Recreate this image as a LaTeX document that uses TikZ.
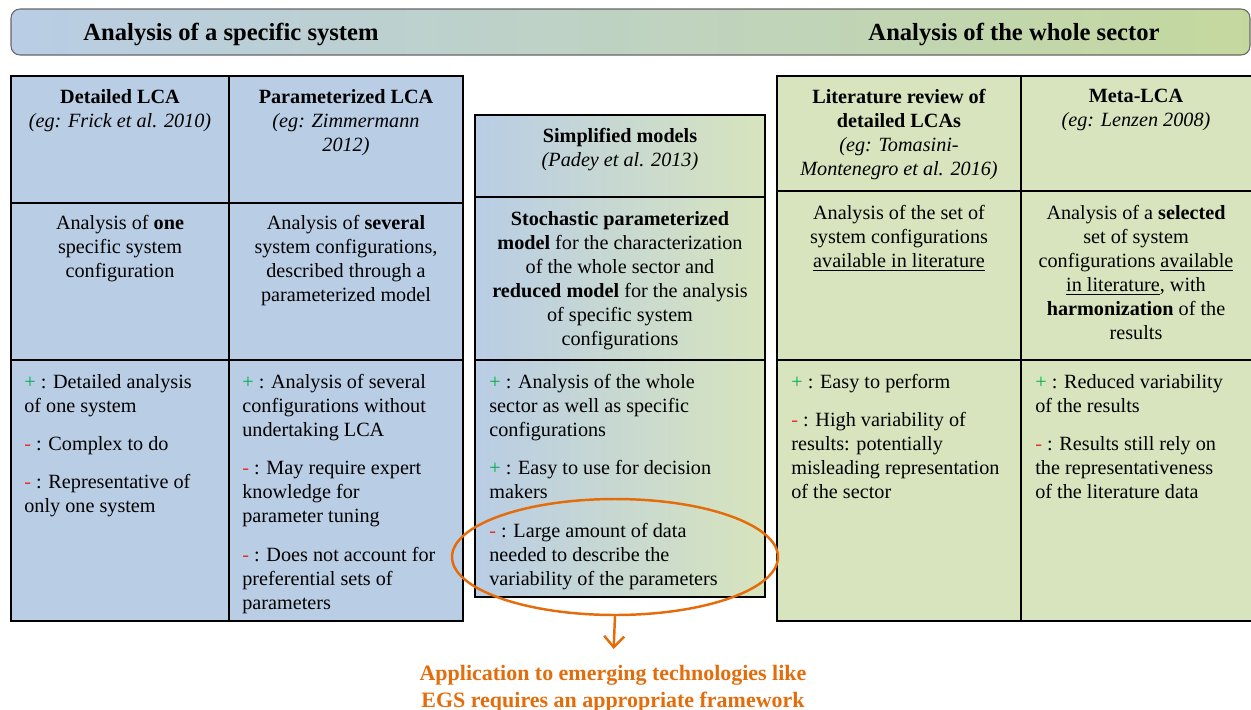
\documentclass[tikz,border=0pt]{standalone}
\usepackage{fontspec}
\setmainfont{Liberation Serif}
\usetikzlibrary{arrows.meta}
\usetikzlibrary{shapes.geometric}
\definecolor{lcablau}{RGB}{185,205,229}
\definecolor{lcagruen}{RGB}{215,228,189}
\definecolor{bannermitte}{RGB}{190,210,205}
\definecolor{bannergruen}{RGB}{196,216,158}
\definecolor{orangerot}{RGB}{228,108,10}
\definecolor{plusgruen}{RGB}{0,176,80}
\definecolor{minusrot}{RGB}{232,50,40}
\newcommand{\zelle}[3]{
    % #1 = ecke oben links
    % #2 = ecke unten rechts
    % #3 = farbe
    \draw[tabelle, fill=#3] (#1) rectangle (#2);
}
\newcommand{\pluspunkt}{\textcolor{plusgruen}{+}~:}
\newcommand{\minuspunkt}{\textcolor{minusrot}{-}~:}

\begin{document}
\begin{tikzpicture}[x=0.02cm, y=-0.02cm,
    tabelle/.style={draw=black, line width=1.1pt},
    kopf/.style={align=center, anchor=north, inner sep=0pt,
        font=\fontsize{11.5pt}{13.7pt}\selectfont, execute at begin node=\strut},
    liste/.style={kopf, align=left, anchor=north west},
    banner/.style={anchor=base, inner sep=0pt, font=\fontsize{14pt}{16pt}\selectfont\bfseries},
    pfeil/.style={draw=orangerot, line width=1.4pt}]

    \useasboundingbox (0,0) rectangle (1251,710);

    % banner
    \draw[draw=black!60, line width=0.6pt, rounded corners=0.18cm,
        left color=lcablau, middle color=bannermitte, right color=bannergruen] (11,9) rectangle (1250,55);
    \node[banner] (spezifisch) at (231,40) {Analysis of a specific system};
    \node[banner] (sektor) at (1014,40) {Analysis of the whole sector};

    % linke tabelle
    \zelle{11,76}{229,203}{lcablau}
    \zelle{229,76}{463,203}{lcablau}
    \zelle{11,203}{229,360}{lcablau}
    \zelle{229,203}{463,360}{lcablau}
    \zelle{11,360}{229,621}{lcablau}
    \zelle{229,360}{463,621}{lcablau}

    % mittlere tabelle
    \draw[tabelle, left color=lcablau, right color=lcagruen] (475,115) rectangle (765,197);
    \draw[tabelle, left color=lcablau, right color=lcagruen] (475,197) rectangle (765,360);
    \draw[tabelle, left color=lcablau, right color=lcagruen] (475,360) rectangle (765,597);

    % rechte tabelle
    \zelle{777,76}{1021,191}{lcagruen}
    \zelle{1021,76}{1254,191}{lcagruen}
    \zelle{777,191}{1021,360}{lcagruen}
    \zelle{1021,191}{1254,360}{lcagruen}
    \zelle{777,360}{1021,621}{lcagruen}
    \zelle{1021,360}{1254,621}{lcagruen}

    % kopfzeilen
    \node[kopf] (detailkopf) at (120,89) {\textbf{Detailed LCA}\\ \textit{(eg: Frick et al. 2010)}};
    \node[kopf] (paramkopf) at (346,89) {\textbf{Parameterized LCA}\\ \textit{(eg: Zimmermann}\\ \textit{2012)}};
    \node[kopf] (simpelkopf) at (620,128) {\textbf{Simplified models}\\ \textit{(Padey et al. 2013)}};
    \node[kopf] (literaturkopf) at (899,89) {\textbf{Literature review of}\\ \textbf{detailed LCAs}\\ \textit{(eg: Tomasini-}\\ \textit{Montenegro et al. 2016)}};
    \node[kopf] (metakopf) at (1136,89) {\textbf{Meta-LCA}\\ \textit{(eg: Lenzen 2008)}};

    % beschreibung
    \node[kopf] (detailtext) at (120,215) {Analysis of \textbf{one}\\ specific system\\ configuration};
    \node[kopf] (paramtext) at (346,215) {Analysis of \textbf{several}\\ system configurations,\\ described through a\\ parameterized model};
    \node[kopf] (simpeltext) at (620,211) {\textbf{Stochastic parameterized}\\ \textbf{model} for the characterization\\ of the whole sector and\\ \textbf{reduced model} for the analysis\\ of specific system\\ configurations};
    \node[kopf] (literaturtext) at (899,205) {Analysis of the set of\\ system configurations\\ \underline{available in literature}};
    \node[kopf] (metatext) at (1136,205) {Analysis of a \textbf{selected}\\ set of system\\ configurations \underline{available}\\ \underline{in literature}, with\\ \textbf{harmonization} of the\\ results};

    % vor- und nachteile
    \node[liste] (detailliste) at (24,374) {\pluspunkt{} Detailed analysis\\ of one system\\[8pt]
        \minuspunkt{} Complex to do\\[8pt]
        \minuspunkt{} Representative of\\ only one system};
    \node[liste] (paramliste) at (242,374) {\pluspunkt{} Analysis of several\\ configurations without\\ undertaking LCA\\[8pt]
        \minuspunkt{} May require expert\\ knowledge for\\ parameter tuning\\[8pt]
        \minuspunkt{} Does not account for\\ preferential sets of\\ parameters};
    \node[liste] (simpelliste) at (489,374) {\pluspunkt{} Analysis of the whole\\ sector as well as specific\\ configurations\\[8pt]
        \pluspunkt{} Easy to use for decision\\ makers\\[8pt]
        \minuspunkt{} Large amount of data\\ needed to describe the\\ variability of the parameters};
    \node[liste] (literaturliste) at (791,374) {\pluspunkt{} Easy to perform\\[8pt]
        \minuspunkt{} High variability of\\ results: potentially\\ misleading representation\\ of the sector};
    \node[liste] (metaliste) at (1035,374) {\pluspunkt{} Reduced variability\\ of the results\\[8pt]
        \minuspunkt{} Results still rely on\\ the representativeness\\ of the literature data};

    % ellipse und fazit
    \node[ellipse, pfeil, minimum width=6.52cm, minimum height=2.32cm, inner sep=0pt] (luecke) at (615,557) {};
    \node[kopf, text=orangerot, font=\fontsize{12.5pt}{15.4pt}\selectfont\bfseries] (fazit) at (613,665)
        {Application to emerging technologies like\\ EGS requires an appropriate framework};
    \draw[pfeil, -{Straight Barb[length=0.22cm, width=0.4cm]}, shorten >=0.32cm] (luecke.south) -- (fazit.north);

\end{tikzpicture}
\end{document}
